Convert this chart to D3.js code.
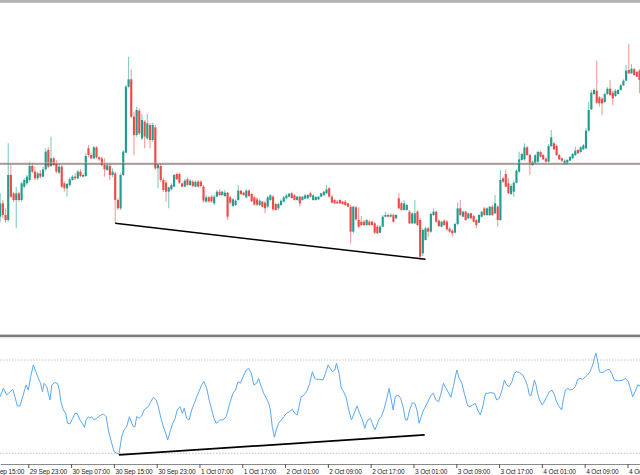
<!DOCTYPE html>
<html><head><meta charset="utf-8">
<script src="https://cdn.jsdelivr.net/npm/d3@7"></script>
<style>html,body{margin:0;padding:0;background:#fff;overflow:hidden}svg{display:block}</style>
</head><body><svg id="c" width="640" height="475"></svg>
<script>
// ---------- data ----------
const openP = [
34470,34510,34475,34460,34595,34540,34520,34540,34520,34560,
34570,34580,34622,34605,34585,34600,34590,34612,34670,34622,
34645,34628,34602,34620,34570,34555,34565,34580,34590,34585,
34605,34590,34592,34675,34655,34645,34678,34648,34645,34625,
34610,34622,34595,34600,34520,34495,34595,34662,34860,34882,
34770,34715,34788,34705,34755,34705,34745,34700,34738,34615,
34622,34580,34572,34545,34552,34560,34598,34598,34570,34560,
34582,34565,34575,34560,34575,34575,34560,34515,34528,34530,
34510,34530,34545,34535,34532,34542,34528,34502,34505,34520,
34548,34542,34528,34548,34538,34528,34522,34505,34515,34512,
34500,34520,34530,34508,34495,34505,34515,34525,34530,34540,
34534,34520,34530,34520,34524,34525,34540,34520,34520,34522,
34530,34535,34540,34555,34530,34520,34515,34520,34515,34515,
34510,34500,34425,34498,34460,34455,34455,34445,34455,34455,
34450,34440,34422,34440,34470,34475,34470,34475,34465,34525,
34510,34490,34490,34485,34450,34450,34485,34460,34360,34400,
34435,34425,34475,34485,34458,34440,34458,34455,34434,34428,
34422,34448,34495,34470,34485,34465,34480,34472,34460,34452,
34470,34495,34475,34475,34500,34480,34500,34460,34585,34598,
34570,34538,34545,34572,34605,34640,34642,34678,34655,34625,
34630,34635,34664,34655,34644,34635,34682,34690,34682,34655,
34645,34628,34630,34638,34645,34655,34670,34664,34672,34675,
34728,34792,34838,34848,34828,34824,34814,34838,34854,34842,
34832,34838,34850,34864,34878,34910,34900,34912,34904,34908];
const highP = [
34540,34520,34495,34690,34625,34545,34560,34545,34575,34585,
34595,34635,34630,34620,34605,34610,34620,34675,34678,34710,
34650,34640,34628,34625,34575,34572,34588,34595,34600,34610,
34612,34600,34660,34685,34662,34682,34682,34652,34650,34645,
34630,34628,34615,34605,34525,34600,34670,34865,34950,34912,
34785,34800,34795,34778,34760,34778,34750,34752,34745,34630,
34628,34585,34580,34560,34570,34598,34602,34602,34572,34582,
34588,34582,34580,34578,34580,34580,34565,34535,34532,34535,
34535,34550,34552,34548,34550,34545,34532,34525,34522,34565,
34550,34545,34552,34552,34542,34532,34528,34522,34518,34518,
34532,34538,34535,34512,34512,34522,34532,34538,34542,34545,
34538,34532,34532,34532,34538,34538,34545,34537,34532,34532,
34542,34548,34565,34560,34535,34522,34520,34522,34518,34520,
34512,34505,34502,34502,34498,34472,34460,34462,34460,34458,
34455,34445,34445,34475,34485,34480,34480,34480,34478,34540,
34515,34520,34508,34490,34482,34520,34490,34465,34435,34440,
34440,34482,34495,34488,34462,34458,34462,34460,34438,34432,
34452,34512,34520,34488,34488,34482,34482,34475,34462,34478,
34488,34500,34498,34502,34505,34535,34505,34610,34590,34612,
34585,34568,34578,34612,34665,34662,34690,34682,34660,34638,
34658,34668,34668,34658,34648,34688,34730,34695,34686,34658,
34648,34642,34644,34652,34662,34680,34674,34682,34688,34735,
34815,34850,34855,34938,34832,34828,34842,34858,34880,34848,
34852,34854,34868,34882,34925,34988,34928,34916,34908,34912];
const lowP = [
34455,34465,34452,34455,34525,34515,34435,34515,34515,34555,
34565,34575,34600,34580,34580,34585,34588,34608,34615,34620,
34622,34600,34598,34555,34545,34530,34560,34578,34580,34582,
34588,34588,34590,34648,34642,34642,34644,34638,34620,34590,
34608,34580,34588,34450,34490,34490,34592,34660,34855,34765,
34655,34710,34715,34700,34675,34700,34675,34695,34610,34555,
34575,34545,34515,34495,34548,34558,34580,34568,34558,34558,
34562,34562,34558,34558,34558,34558,34512,34512,34512,34512,
34505,34528,34532,34532,34528,34460,34508,34500,34502,34518,
34534,34532,34525,34530,34514,34504,34502,34502,34498,34480,
34495,34518,34488,34488,34490,34502,34512,34522,34528,34524,
34518,34518,34500,34518,34522,34522,34528,34518,34518,34520,
34528,34532,34538,34528,34510,34508,34508,34508,34506,34502,
34498,34390,34420,34458,34435,34442,34442,34442,34442,34442,
34418,34418,34420,34438,34468,34468,34468,34452,34462,34492,
34488,34488,34488,34448,34448,34448,34442,34340,34352,34398,
34408,34422,34472,34452,34438,34438,34442,34428,34422,34410,
34420,34445,34472,34468,34458,34462,34462,34452,34435,34450,
34468,34472,34472,34472,34472,34478,34440,34458,34572,34558,
34538,34535,34530,34570,34602,34638,34638,34652,34595,34622,
34628,34632,34648,34640,34632,34632,34678,34670,34652,34640,
34634,34625,34626,34636,34643,34652,34658,34662,34670,34672,
34725,34790,34835,34808,34800,34775,34810,34835,34832,34805,
34830,34836,34848,34862,34876,34898,34898,34892,34888,34840];
const closeP = [
34510,34475,34460,34595,34530,34520,34540,34520,34570,34580,
34590,34622,34605,34585,34600,34590,34612,34665,34620,34645,
34625,34605,34620,34560,34555,34568,34582,34590,34585,34605,
34592,34595,34652,34655,34645,34678,34648,34642,34625,34612,
34624,34595,34605,34520,34495,34595,34665,34860,34882,34770,
34715,34790,34720,34760,34710,34750,34700,34745,34615,34625,
34580,34550,34545,34558,34565,34595,34582,34572,34560,34578,
34565,34578,34562,34575,34560,34562,34518,34528,34516,34516,
34530,34545,34535,34545,34542,34470,34512,34522,34518,34548,
34538,34535,34548,34532,34516,34506,34506,34518,34500,34495,
34528,34534,34492,34490,34508,34518,34528,34534,34539,34526,
34520,34530,34510,34530,34534,34535,34530,34534,34529,34530,
34540,34545,34552,34530,34512,34510,34510,34510,34508,34505,
34500,34425,34500,34462,34440,34445,34445,34460,34445,34445,
34422,34420,34440,34470,34475,34470,34475,34455,34475,34495,
34490,34510,34505,34450,34480,34480,34445,34350,34430,34435,
34425,34478,34485,34455,34442,34455,34445,34432,34425,34420,
34448,34495,34475,34485,34460,34480,34465,34455,34445,34475,
34485,34475,34495,34500,34475,34510,34460,34580,34575,34560,
34540,34562,34572,34608,34642,34658,34678,34655,34630,34635,
34654,34664,34650,34642,34635,34682,34708,34672,34655,34642,
34638,34638,34640,34649,34658,34668,34660,34678,34684,34728,
34790,34842,34850,34812,34810,34810,34838,34854,34835,34825,
34848,34850,34864,34878,34908,34900,34914,34895,34890,34880];

// oscillator readings (bar position, value)
const oscBar = [
0,1.2,2.4,3.7,4.7,5.5,6.4,7.4,8.4,9.7,
10.5,11.4,12.4,13.3,14.3,15.1,15.8,16.4,17.4,18.0,
18.6,19.3,20.3,21.4,22.1,22.7,23.6,24.5,25.2,26.1,
27.1,28.0,28.8,29.8,30.7,31.5,32.1,33.0,33.6,34.2,
35.1,36.1,37.1,38.6,39.6,40.4,41.7,42.6,43.6,44.4,
45.4,46.3,47.3,48.3,49.2,49.8,50.4,51.0,52.0,52.9,
53.8,54.5,55.4,56.3,57.3,58.3,59.1,60.1,61.0,61.9,
62.6,63.5,64.5,65.4,66.2,67.2,68.1,68.8,69.7,70.6,
71.6,72.6,73.5,74.3,75.3,76.2,77.2,78.1,79.1,79.9,
80.8,82.1,83.3,84.5,85.8,87.0,88.0,88.9,89.8,90.8,
92.0,92.9,93.9,94.8,95.8,96.6,97.6,98.5,99.5,100.4,
101.0,101.7,102.5,103.2,104.1,105.1,106.0,107.0,108.2,109.2,
110.1,111.0,111.7,112.5,113.2,114.1,114.8,115.7,116.7,117.6,
118.4,119.4,120.7,121.6,122.6,123.4,124.2,125.1,125.7,126.7,
127.5,128.4,129.4,130.3,131.3,132.1,133.4,134.4,135.4,136.3,
136.9,137.5,138.4,139.1,140.0,140.6,141.5,142.5,143.4,144.4,
145.4,146.2,146.9,147.7,148.7,149.7,150.6,151.5,152.2,153.1,
154.1,155.0,155.8,156.6,157.4,158.3,159.6,
160.2,161.1,161.9,162.9,163.9,164.8,165.7,166.7,167.7,168.5,
169.4,170.7,171.6,172.6,173.5,174.8,175.6,176.6,177.6,178.5,
179.5,180.4,181.4,182.2,183.5,184.7,185.6,186.6,187.6,188.5,
189.3,190.3,191.3,192.2,193.1,194.1,195.3,196.3,197.2,197.8,
198.4,199.1,199.7,200.3,200.9,201.6,202.6,203.4,204.3,205.3,
206.3,207.2,208.0,209.0,209.9,210.5,211.3,212.2,213.0,214.0,
215.0,215.9,216.8,217.8,218.8,219.6,220.5,221.5,222.1,222.7,
223.4,224.0,225.0,225.9,226.7,227.7,228.6,229.6,230.6,231.5,
232.7,233.9,234.8,235.6,236.4,237.4,238.3,239.2];
const oscVal = [
54.3,57.9,55.0,56.4,57.4,54.3,50.3,50.3,54.3,59.3,
57.1,62.9,67.9,65.0,62.1,60.0,56.4,60.0,58.6,55.7,
52.9,59.3,60.3,60.0,57.1,52.1,48.6,47.1,42.9,42.6,
45.0,47.1,47.1,44.3,42.9,41.1,44.3,45.7,45.0,45.7,
44.3,45.0,46.0,46.9,45.7,40.0,34.3,30.7,30.0,29.6,
37.1,40.0,41.4,45.7,42.9,41.4,41.4,45.7,45.0,46.0,
48.6,49.3,50.0,52.1,54.0,52.9,50.0,45.0,41.4,38.6,
35.7,39.3,42.9,45.0,48.6,50.0,47.1,49.3,45.0,44.3,
48.6,51.4,54.3,56.4,59.3,60.7,57.9,52.9,48.6,45.0,
42.9,44.3,44.3,45.7,51.4,55.7,57.1,60.7,60.0,62.9,
65.7,66.4,64.3,59.3,60.0,62.1,58.6,55.7,53.6,51.4,
48.6,41.4,36.9,40.0,42.9,44.3,45.7,47.1,47.9,48.9,
47.1,46.4,50.0,54.3,54.6,55.7,57.1,60.0,65.0,62.1,
61.7,61.7,61.4,64.3,67.9,66.4,65.0,65.7,68.6,64.3,
57.9,56.4,53.6,48.6,44.3,46.4,50.3,47.1,44.3,40.7,
42.9,44.3,45.0,42.9,40.0,41.4,44.3,45.7,48.6,52.9,
57.9,52.9,48.6,54.3,55.0,53.6,50.0,44.3,44.3,48.6,
51.7,51.4,48.6,42.9,45.7,48.6,51.4,
52.9,55.0,55.7,52.9,52.1,55.7,60.0,57.9,55.7,54.0,
58.6,65.7,62.1,60.0,55.7,50.3,50.0,50.7,51.4,48.6,
46.4,50.0,55.7,55.7,56.0,55.7,52.9,53.6,57.1,61.4,
59.3,58.6,60.7,64.3,65.0,64.6,63.6,61.4,58.6,55.0,
54.6,57.9,61.4,59.3,55.7,52.9,50.7,52.1,54.3,56.4,
57.1,55.0,52.1,50.0,48.6,52.9,57.1,57.9,57.1,57.4,
58.6,61.7,62.1,61.7,62.9,63.6,65.0,67.9,70.7,72.9,
69.3,65.0,64.6,65.0,65.7,66.0,64.3,61.4,61.1,61.1,
61.4,62.1,60.7,57.9,54.3,56.4,59.3,58.9];

const oscLevels = [70, 30];
const hLinePrices = [34631, 34628];
const priceTrendBars = [43, 159];
const priceTrendVals = [34450, 34342];
const oscTrendBars = [44.4, 158.7];
const oscTrendVals = [29.3, 37.9];
const timeLabelBars = [-5, 11, 27, 43, 59, 75, 91, 107, 123, 139, 155, 171, 187, 203, 219, 235];
const timeLabels = ["29 Sep 15:00","29 Sep 23:00","30 Sep 07:00","30 Sep 15:00","30 Sep 23:00",
  "1 Oct 07:00","1 Oct 17:00","2 Oct 01:00","2 Oct 09:00","2 Oct 17:00","3 Oct 01:00",
  "3 Oct 09:00","3 Oct 17:00","4 Oct 01:00","4 Oct 09:00","4 Oct 17:00"];

// ---------- drawing ----------
const W = 640, H = 475;
const svg = d3.select("#c");
const nBars = closeP.length;
const x = d3.scaleLinear().domain([0, 239]).range([0.2, 639.5]);
const step = x(1) - x(0);
const y = d3.scaleLinear().domain([34115, 35114]).range([335, 2]);
const yO = d3.scaleLinear().domain([30, 70]).range([453.3, 360]);

const defs = svg.append("defs");
defs.append("clipPath").attr("id","cpMain").append("rect").attr("x",0).attr("y",3).attr("width",W).attr("height",331);
defs.append("clipPath").attr("id","cpOsc").append("rect").attr("x",0).attr("y",339).attr("width",W).attr("height",124);

// frame lines
svg.append("line").attr("x1",0).attr("x2",W).attr("y1",1).attr("y2",1).attr("stroke","#6a6a6a").attr("stroke-width",1.2);
svg.append("line").attr("x1",0).attr("x2",W).attr("y1",2.4).attr("y2",2.4).attr("stroke","#b4b4b4").attr("stroke-width",1);
svg.append("rect").attr("x",0).attr("y",334.6).attr("width",W).attr("height",2.4).attr("fill","#7c7c7c");
svg.append("line").attr("x1",0).attr("x2",W).attr("y1",337.8).attr("y2",337.8).attr("stroke","#dcdcdc").attr("stroke-width",1);

// main panel
const gMain = svg.append("g").attr("clip-path","url(#cpMain)");
const bars = d3.range(nBars).map(i => ({i, o:openP[i], h:highP[i], l:lowP[i], c:closeP[i]}));
const upCol = "#1f9e8f", dnCol = "#ee4a47";
gMain.selectAll("line.wick").data(bars).join("line").attr("class","wick")
  .attr("x1", d => x(d.i)).attr("x2", d => x(d.i))
  .attr("y1", d => y(d.h)).attr("y2", d => y(d.l))
  .attr("stroke", d => d.c >= d.o ? upCol : dnCol).attr("stroke-opacity",0.55).attr("stroke-width",1.1);
const bw = step * 0.8;
gMain.selectAll("rect.body").data(bars).join("rect").attr("class","body")
  .attr("x", d => x(d.i) - bw/2).attr("width", bw)
  .attr("y", d => y(Math.max(d.o, d.c)))
  .attr("height", d => Math.max(0.9, Math.abs(y(d.o) - y(d.c))))
  .attr("fill", d => d.c >= d.o ? upCol : dnCol);

// horizontal level
gMain.append("line").attr("x1",0).attr("x2",W).attr("y1",y(hLinePrices[0])).attr("y2",y(hLinePrices[0]))
  .attr("stroke","#f4b9b3").attr("stroke-width",0.8);
gMain.append("line").attr("x1",0).attr("x2",W).attr("y1",y(hLinePrices[1])).attr("y2",y(hLinePrices[1]))
  .attr("stroke","#4f5d59").attr("stroke-width",1.1);

// price trendline
gMain.append("path").datum(d3.zip(priceTrendBars, priceTrendVals))
  .attr("d", d3.line().x(d => x(d[0])).y(d => y(d[1])))
  .attr("stroke","#000").attr("stroke-width",1.5).attr("fill","none");

// oscillator panel
const gOsc = svg.append("g").attr("clip-path","url(#cpOsc)");
gOsc.selectAll("line.lvl").data(oscLevels).join("line").attr("class","lvl")
  .attr("x1",0).attr("x2",W).attr("y1", d => yO(d)).attr("y2", d => yO(d))
  .attr("stroke","#c4c4c4").attr("stroke-width",1).attr("stroke-dasharray","1.5,1.5");
const pts = d3.zip(oscBar, oscVal);
gOsc.append("path").datum(pts)
  .attr("d", d3.line().x(d => x(d[0])).y(d => yO(d[1])))
  .attr("stroke","#5aa8f5").attr("stroke-width",1).attr("fill","none");
gOsc.append("path").datum(d3.zip(oscTrendBars, oscTrendVals))
  .attr("d", d3.line().x(d => x(d[0])).y(d => yO(d[1])))
  .attr("stroke","#000").attr("stroke-width",1.7).attr("fill","none");

// time axis
const xEdge = d3.scaleLinear().domain([0.5, 239.5]).range(x.range());
const axis = d3.axisBottom(xEdge).tickValues(timeLabelBars)
  .tickFormat((d, i) => timeLabels[i]).tickSize(4).tickSizeOuter(0);
const gAx = svg.append("g").attr("transform","translate(0,464)").call(axis);
gAx.select(".domain").attr("stroke","#8a8a8a");
gAx.selectAll(".tick line").attr("stroke","#555");
gAx.selectAll(".tick text")
  .attr("x", 1).attr("y", 5).attr("dy","0.71em")
  .style("text-anchor","start")
  .style("font-family","'Liberation Sans', Arial, sans-serif")
  .style("font-size","6.5px").style("letter-spacing","-0.12px")
  .attr("fill","#222");
</script></body></html>
